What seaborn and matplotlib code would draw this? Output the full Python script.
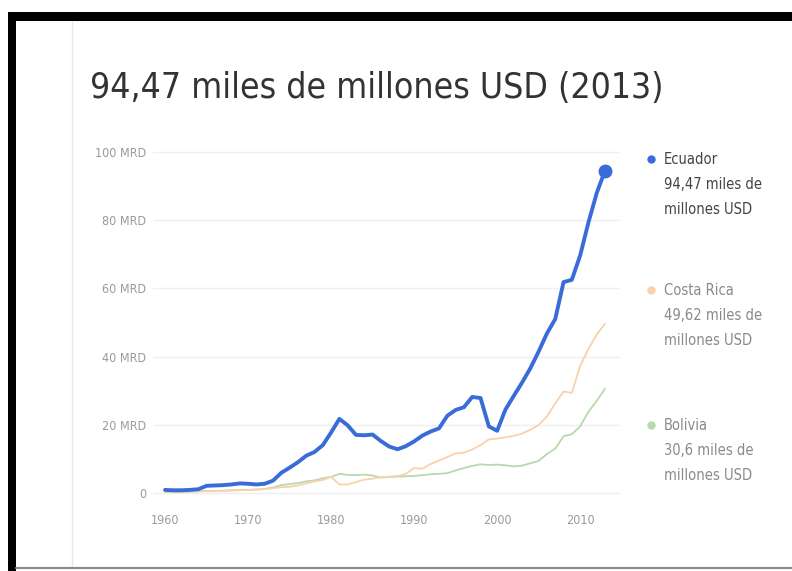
import numpy as np
import pandas as pd
import seaborn as sns
import matplotlib.pyplot as plt
from matplotlib import font_manager
from matplotlib.lines import Line2D
from matplotlib.patches import Rectangle

years = list(range(1960, 2014))
ecuador = [1.0, 0.9, 0.9, 1.0, 1.2, 2.2, 2.3, 2.4, 2.6, 2.9,
           2.8, 2.6, 2.8, 3.7, 6.0, 7.5, 9.1, 11.0, 12.1, 14.1,
           17.8, 21.8, 19.9, 17.1, 17.0, 17.2, 15.3, 13.7, 12.9, 13.8,
           15.2, 16.9, 18.1, 19.0, 22.7, 24.4, 25.2, 28.2, 27.9, 19.6,
           18.3, 24.5, 28.5, 32.4, 36.6, 41.5, 46.8, 51.0, 61.8, 62.5,
           69.6, 79.3, 87.9, 94.47]
costa_rica = [0.5, 0.5, 0.5, 0.6, 0.6, 0.6, 0.7, 0.7, 0.8, 0.9,
              1.0, 1.1, 1.2, 1.5, 1.8, 1.9, 2.3, 2.9, 3.5, 3.9,
              4.8, 2.6, 2.6, 3.3, 4.0, 4.3, 4.7, 4.9, 5.0, 5.7,
              7.4, 7.2, 8.6, 9.6, 10.6, 11.7, 11.9, 12.8, 14.1, 15.8,
              16.0, 16.4, 16.8, 17.5, 18.6, 20.0, 22.5, 26.3, 29.8, 29.4,
              37.3, 42.3, 46.5, 49.62]
bolivia = [0.4, 0.4, 0.4, 0.5, 0.6, 0.7, 0.7, 0.8, 0.9, 1.0,
           1.0, 1.1, 1.3, 1.7, 2.4, 2.7, 3.0, 3.5, 3.8, 4.4,
           4.8, 5.7, 5.4, 5.3, 5.5, 5.2, 4.6, 4.8, 4.9, 5.0,
           5.1, 5.3, 5.6, 5.7, 5.9, 6.7, 7.4, 8.0, 8.5, 8.3,
           8.4, 8.2, 7.9, 8.1, 8.8, 9.5, 11.5, 13.1, 16.7, 17.3,
           19.6, 23.9, 27.1, 30.6]
paises = ['Ecuador', 'Costa Rica', 'Bolivia']
etiquetas = [['94,47 miles de', 'millones USD'], ['49,62 miles de', 'millones USD'], ['30,6 miles de', 'millones USD']]
colores = ['#3a6cd9', '#f9d1ab', '#b8d9ae']
yticks = [0, 20, 40, 60, 80, 100]
ytick_labels = ['0', '20 MRD', '40 MRD', '60 MRD', '80 MRD', '100 MRD']
xticks = [1960, 1970, 1980, 1990, 2000, 2010]

df = pd.DataFrame({'año': years * 3,
                   'pib': ecuador + costa_rica + bolivia,
                   'pais': [p for p in paises for _ in years]})

sns.set_style('white')
# condensed face if the system has one, otherwise plain sans
nombres = {f.name for f in font_manager.fontManager.ttflist}
condensed = [f for f in ['Liberation Sans Narrow', 'DejaVu Sans Condensed'] if f in nombres]
plt.rcParams['font.family'] = condensed + ['DejaVu Sans']
plt.rcParams['font.stretch'] = 'condensed'

fig = plt.figure(figsize=(7.92, 5.71), dpi=100)
W, H = 792, 571
ax = fig.add_axes([153 / W, 1 - 500 / H, 467 / W, 360 / H])

# thin series first, blue on top
for p, c, lw in [('Bolivia', colores[2], 1.3), ('Costa Rica', colores[1], 1.3), ('Ecuador', colores[0], 2.8)]:
    sns.lineplot(data=df[df.pais == p], x='año', y='pib', color=c, linewidth=lw, ax=ax, legend=False)
ax.plot(years[-1], ecuador[-1], 'o', color=colores[0], markersize=9)

ax.set_xlim(1958.55, 2014.8)
ax.set_ylim(-1.95, 103.4)
ax.set_yticks(yticks)
ax.set_yticklabels(ytick_labels)
ax.set_xticks(xticks)
ax.set_xlabel('')
ax.set_ylabel('')
ax.tick_params(axis='both', colors='#9a9a9a', labelsize=9, length=0)
ax.tick_params(axis='y', pad=5)
ax.tick_params(axis='x', pad=10)
ax.grid(axis='y', color='#efefef', linewidth=1)
for s in ax.spines.values():
    s.set_visible(False)

# title
fig.text(90 / W, 1 - 98 / H, '94,47 miles de millones USD (2013)', fontsize=25.5, color='#333333', ha='left', va='baseline')

# legend on the right
legend_y = [159, 290, 425]
for p, lab, c, yy, k in zip(paises, etiquetas, colores, legend_y, range(3)):
    tc = '#444444' if k == 0 else '#8a8a8a'
    fig.add_artist(Line2D([651 / W], [1 - yy / H], marker='o', color=c, markersize=5, linestyle='none'))
    for j, linea in enumerate([p] + lab):
        fig.text(664 / W, 1 - (yy + 5 + 25 * j) / H, linea, fontsize=10.5, color=tc, ha='left', va='baseline')

# frame of the screenshot
fig.add_artist(Rectangle((8 / W, 1 - 21 / H), 1 - 8 / W, 9 / H, color='black', lw=0))
fig.add_artist(Rectangle((8 / W, 0), 8 / W, 1 - 12 / H, color='black', lw=0))
fig.add_artist(Line2D([72 / W, 72 / W], [3 / H, 1 - 21 / H], color='#e8e8e8', lw=1))
fig.add_artist(Line2D([16 / W, 1], [3 / H, 3 / H], color='#888888', lw=1.5))

fig.savefig('out.png', dpi=100)
